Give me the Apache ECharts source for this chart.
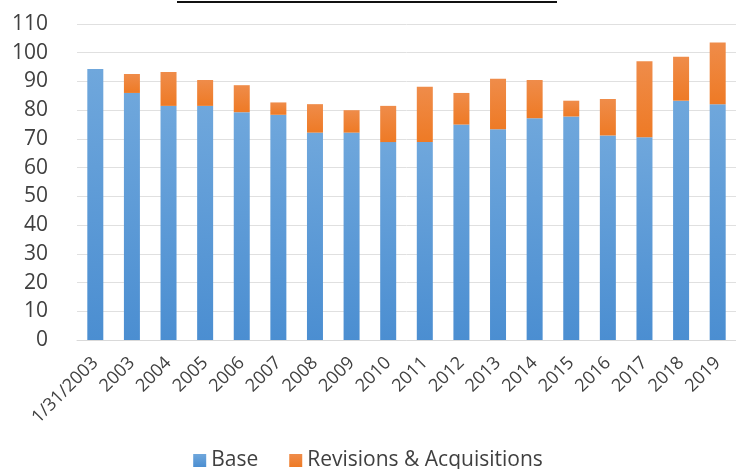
<!DOCTYPE html>
<html>
<head>
<meta charset="utf-8">
<script src="https://cdn.jsdelivr.net/npm/echarts@6/dist/echarts.min.js"></script>
<style>
  html, body { margin: 0; padding: 0; background: #fff; }
  #chart { width: 736px; height: 469px; }
</style>
</head>
<body>
<div id="chart"></div>
<script>
const categories = ['1/31/2003', '2003', '2004', '2005', '2006', '2007', '2008', '2009', '2010',
  '2011', '2012', '2013', '2014', '2015', '2016', '2017', '2018', '2019']
const baseValues = [94.3, 86.0, 81.5, 81.5, 79.3, 78.4, 72.2, 72.2, 68.9,
  68.9, 75.0, 73.4, 77.2, 77.8, 71.2, 70.6, 83.3, 82.1]
const revisionValues = [0, 6.6, 11.8, 9.0, 9.4, 4.3, 9.9, 7.8, 12.6,
  19.3, 11.0, 17.5, 13.3, 5.5, 12.7, 26.4, 15.3, 21.5]
const yTicks = { min: 0, max: 110, interval: 10 }

const chart = echarts.init(document.getElementById('chart'))

const gradient = function (top, bottom) {
  return new echarts.graphic.LinearGradient(0, 0, 0, 1, [
    { offset: 0, color: top },
    { offset: 1, color: bottom }
  ])
}

const option = {
  animation: false,
  textStyle: { fontFamily: 'Open Sans' },
  // underline of the cut-off title at the top edge
  graphic: [
    {
      type: 'line',
      shape: { x1: 177, y1: 2, x2: 557, y2: 2 },
      style: { stroke: '#111', lineWidth: 2 }
    }
  ],
  legend: {
    top: 445,
    left: 'center',
    itemWidth: 13,
    itemHeight: 13,
    itemGap: 31,
    icon: 'rect',
    textStyle: { fontSize: 21, color: '#404040', fontFamily: 'Open Sans' },
    data: ['Base', 'Revisions & Acquisitions']
  },
  grid: {
    left: 77,
    top: 24,
    width: 663,
    height: 316
  },
  xAxis: {
    type: 'category',
    data: categories,
    axisLine: { lineStyle: { color: '#d9d9d9' } },
    axisTick: { show: false },
    axisLabel: {
      rotate: 45,
      interval: 0,
      margin: 20,
      fontSize: 18,
      color: '#404040'
    }
  },
  yAxis: {
    type: 'value',
    min: yTicks.min,
    max: yTicks.max,
    interval: yTicks.interval,
    axisLine: { show: false },
    axisTick: { show: false },
    splitLine: { lineStyle: { color: '#e0e0e0', width: 1 } },
    axisLabel: { fontSize: 21, color: '#404040', margin: 29 }
  },
  series: [
    {
      name: 'Base',
      type: 'bar',
      stack: 'total',
      barWidth: 16,
      itemStyle: { color: gradient('#6fa7dc', '#4b8ed1') },
      data: baseValues
    },
    {
      name: 'Revisions & Acquisitions',
      type: 'bar',
      stack: 'total',
      barWidth: 16,
      itemStyle: { color: gradient('#ef8c4a', '#ee7a25') },
      data: revisionValues
    }
  ]
}

chart.setOption(option)
</script>
</body>
</html>
